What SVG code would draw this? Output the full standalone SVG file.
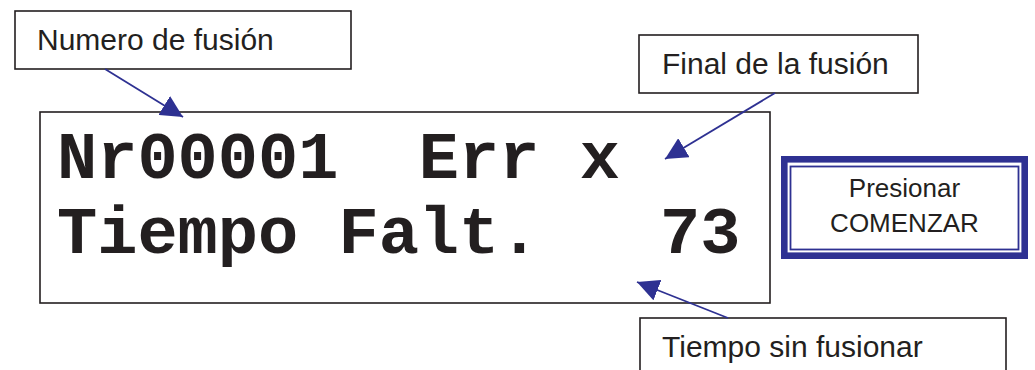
<svg xmlns="http://www.w3.org/2000/svg" width="1035" height="370" viewBox="0 0 1035 370">
  <style>
    .box { fill: #ffffff; stroke: #231f20; stroke-width: 1.6; }
    .label { font-family: "Liberation Sans", Arial, sans-serif; font-size: 30px; fill: #231f20; }
    .btn { font-family: "Liberation Sans", Arial, sans-serif; font-size: 26px; fill: #231f20; text-anchor: middle; }
    .lcd { font-family: "Liberation Mono", "Courier New", monospace; font-size: 67px; font-weight: bold; fill: #231f20; white-space: pre; }
    .conn { stroke: #2e3192; stroke-width: 1.8; fill: none; marker-end: url(#ah); }
  </style>
  <defs>
    <marker id="ah" markerUnits="userSpaceOnUse" markerWidth="22" markerHeight="22" viewBox="0 0 20 20" refX="20" refY="10" orient="auto">
      <path d="M0,0 L20,10 L0,20 Z" fill="#2e3192"/>
    </marker>
  </defs>
  <rect width="1035" height="370" fill="#ffffff"/>

  <g id="display">
    <rect class="box" x="40" y="112" width="730" height="191"/>
    <text class="lcd" x="57" y="178" xml:space="preserve">Nr00001  Err x</text>
    <text class="lcd" x="57" y="253" xml:space="preserve">Tiempo Falt.   73</text>
  </g>

  <g id="numero">
    <rect class="box" x="15" y="11" width="336" height="58"/>
    <text class="label" x="37" y="50">Numero de fusión</text>
  </g>

  <g id="final">
    <rect class="box" x="639" y="35" width="279" height="58"/>
    <text class="label" x="662" y="74">Final de la fusión</text>
  </g>

  <g id="tiempo">
    <rect class="box" x="640" y="318" width="366" height="70"/>
    <text class="label" x="662" y="357">Tiempo sin fusionar</text>
  </g>

  <g id="comenzar">
    <rect x="784.3" y="159.3" width="240.4" height="96.4" fill="#ffffff" stroke="#2e3192" stroke-width="6.6"/>
    <rect x="790.5" y="166.5" width="228" height="83" fill="none" stroke="#2e3192" stroke-width="1.8"/>
    <text class="btn" x="904.5" y="197">Presionar</text>
    <text class="btn" x="904.5" y="232">COMENZAR</text>
  </g>

  <g id="connectors">
    <line class="conn" x1="105" y1="69" x2="183" y2="117"/>
    <line class="conn" x1="775" y1="93" x2="665" y2="159"/>
    <line class="conn" x1="728" y1="318" x2="637" y2="282"/>
  </g>
</svg>
